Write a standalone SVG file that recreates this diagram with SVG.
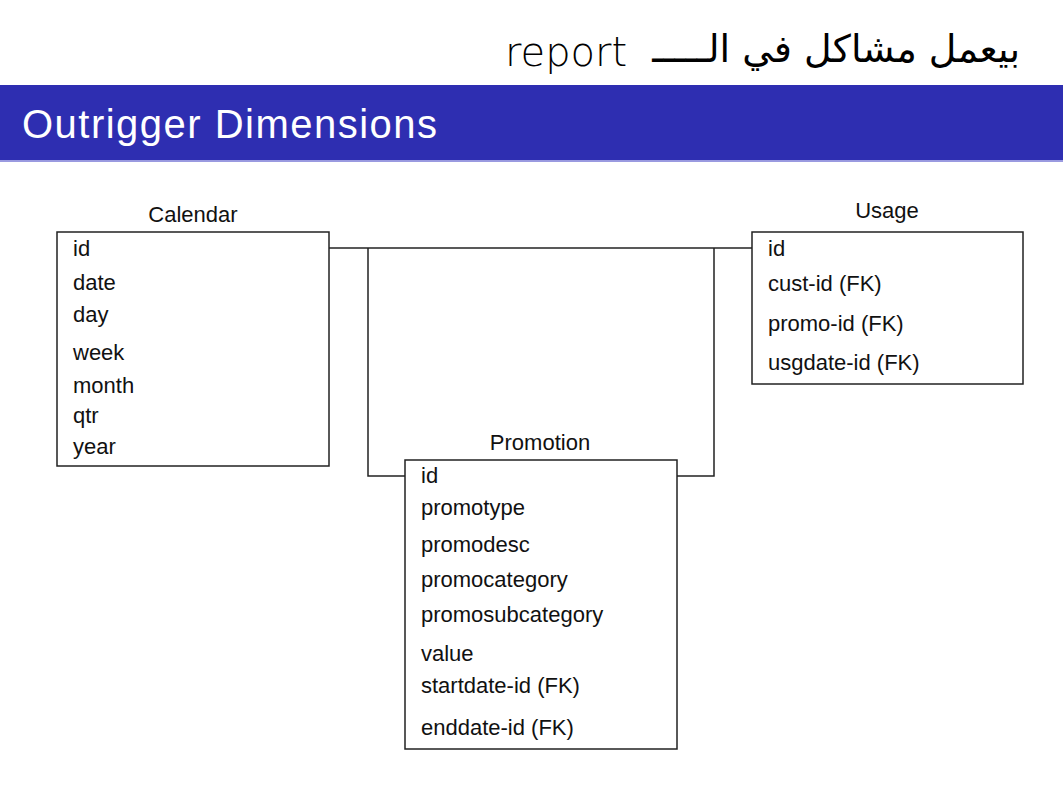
<svg xmlns="http://www.w3.org/2000/svg" width="1063" height="798" viewBox="0 0 1063 798">
<style>
.box{fill:#fff;stroke:#222;stroke-width:1.5}
.f{font-family:"Liberation Sans","DejaVu Sans",sans-serif;font-size:22px;fill:#111}
.t{font-family:"Liberation Sans","DejaVu Sans",sans-serif;font-size:22px;fill:#111;text-anchor:middle}
.c{fill:none;stroke:#222;stroke-width:1.5}
.hw{font-family:"DejaVu Sans",sans-serif;fill:#000}
</style>
<rect width="1063" height="798" fill="#fff"/>
<g id="annotation">
<text class="hw" x="505" y="66" font-size="40" font-weight="200">report</text>
<text class="hw" x="1020" y="62" font-size="38" text-anchor="start" direction="rtl">بيعمل مشاكل في الـــــ</text>
</g>
<g id="title">
<rect x="0" y="85" width="1063" height="76" fill="#2E2EB1"/>
<rect x="0" y="160" width="1063" height="2" fill="#9a9ae0"/>
<text x="22" y="138" font-family="Liberation Sans,DejaVu Sans,sans-serif" font-size="40" fill="#fff" textLength="415">Outrigger Dimensions</text>
</g>
<g id="connectors">
<polyline class="c" points="329,248 752,248"/>
<polyline class="c" points="368,248 368,476 405,476"/>
<polyline class="c" points="714,248 714,476 677,476"/>
</g>
<g id="calendar">
<text class="t" x="193" y="222">Calendar</text>
<rect class="box" x="57" y="232" width="272" height="234"/>
<text class="f" x="73" y="256">id</text>
<text class="f" x="73" y="290">date</text>
<text class="f" x="73" y="322">day</text>
<text class="f" x="73" y="360">week</text>
<text class="f" x="73" y="393">month</text>
<text class="f" x="73" y="423">qtr</text>
<text class="f" x="73" y="454">year</text>
</g>
<g id="usage">
<text class="t" x="887" y="218">Usage</text>
<rect class="box" x="752" y="232" width="271" height="152"/>
<text class="f" x="768" y="256">id</text>
<text class="f" x="768" y="291">cust-id (FK)</text>
<text class="f" x="768" y="331">promo-id (FK)</text>
<text class="f" x="768" y="370">usgdate-id (FK)</text>
</g>
<g id="promotion">
<text class="t" x="540" y="450">Promotion</text>
<rect class="box" x="405" y="460" width="272" height="289"/>
<text class="f" x="421" y="483">id</text>
<text class="f" x="421" y="515">promotype</text>
<text class="f" x="421" y="552">promodesc</text>
<text class="f" x="421" y="587">promocategory</text>
<text class="f" x="421" y="622">promosubcategory</text>
<text class="f" x="421" y="661">value</text>
<text class="f" x="421" y="693">startdate-id (FK)</text>
<text class="f" x="421" y="735">enddate-id (FK)</text>
</g>
</svg>
